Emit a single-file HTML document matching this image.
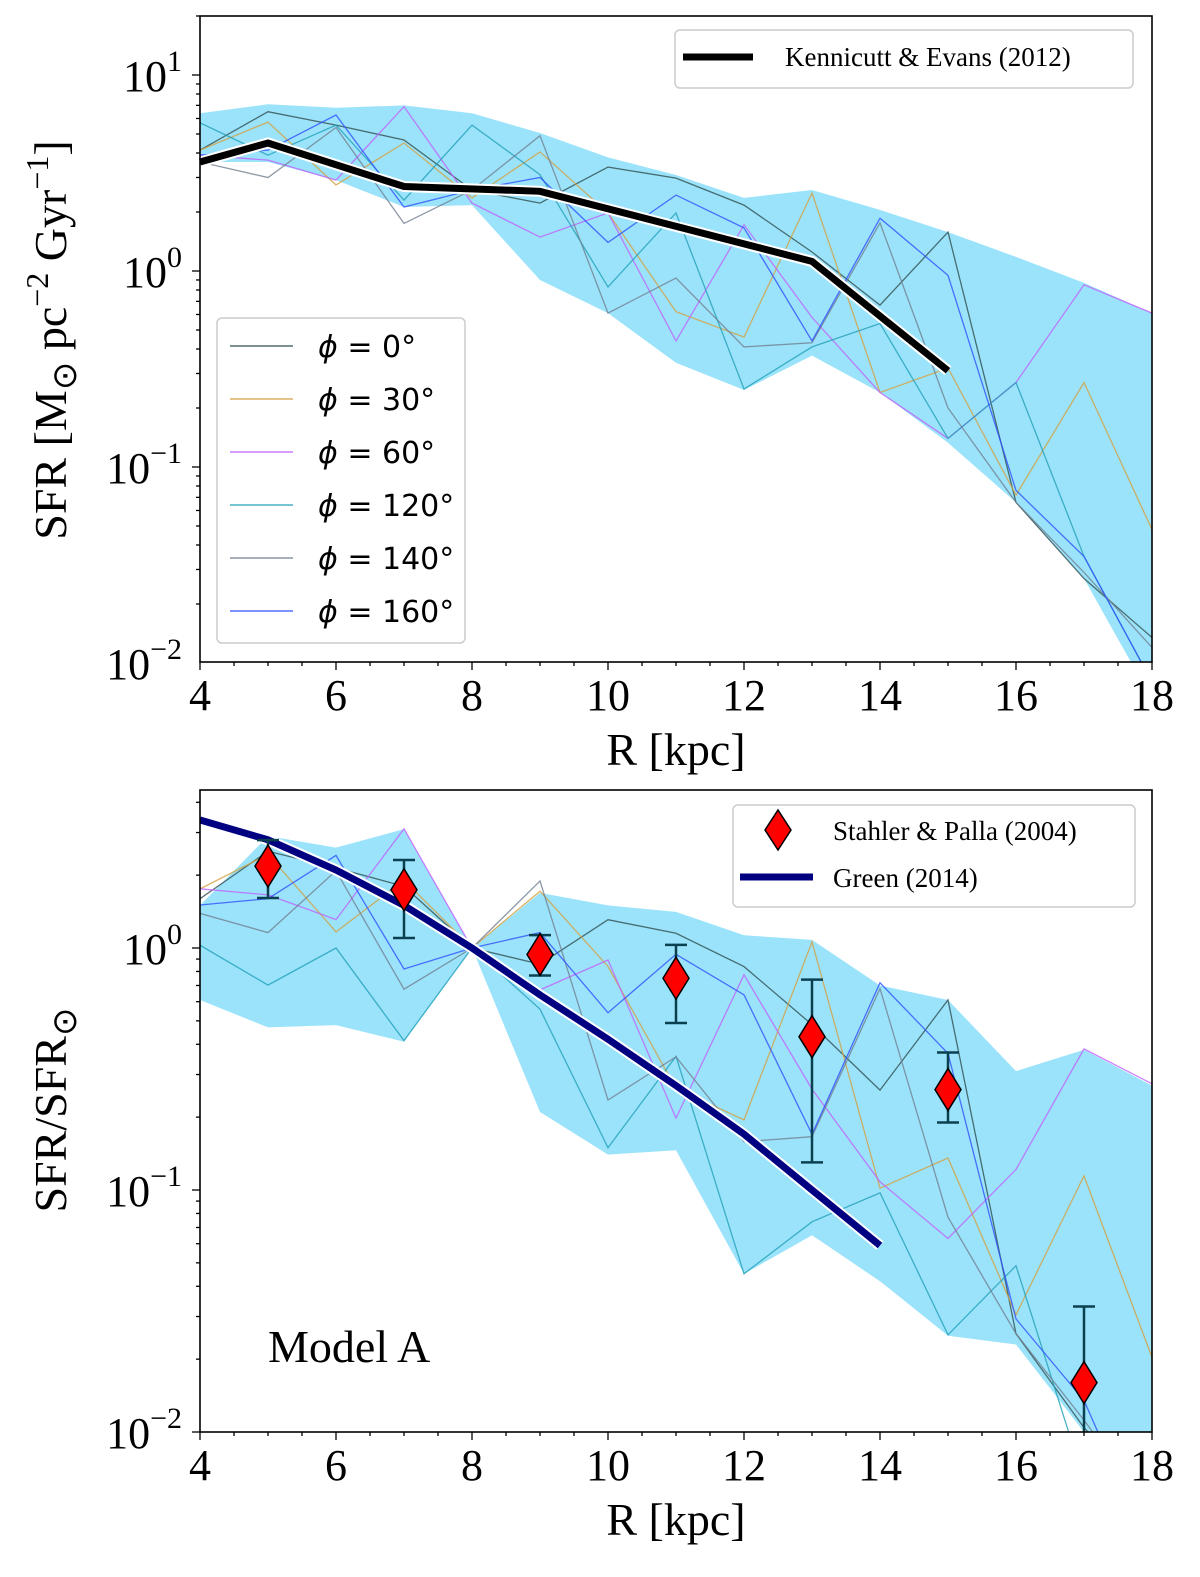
<!DOCTYPE html>
<html><head><meta charset="utf-8"><style>
html,body{margin:0;padding:0;background:#fff;}
svg{display:block;}
text{font-family:"Liberation Serif",serif;fill:#000;}
.math{font-family:"DejaVu Sans",sans-serif;}
</style></head><body>
<svg id="fig" width="1200" height="1577" viewBox="0 0 1200 1577" xmlns="http://www.w3.org/2000/svg">
<g id="top"></g>
<g id="bot"></g>
</svg>
<script>
const radii = [4,5,6,7,8,9,10,11,12,13,14,15,16,17,18];
const phiLabels = ['0','30','60','120','140','160'];
const phiColors = ['#2f4f4f','#d4a040','#c060ff','#20a0b8','#708090','#3050ff'];
const phi0   = [4.14,6.5,5.55,4.66,2.59,2.22,3.39,2.98,2.17,1.25,0.67,1.58,0.066,0.027,0.0135];
const phi30  = [4.14,5.75,2.75,4.5,2.36,4.05,1.98,0.62,0.46,2.5,0.24,0.32,0.072,0.27,0.048];
const phi60  = [3.9,3.68,2.91,6.9,2.22,1.49,1.98,0.44,1.72,0.58,0.24,0.14,0.27,0.85,0.61];
const phi120 = [5.7,3.9,5.55,2.3,5.55,3.1,0.83,1.98,0.25,0.41,0.54,0.14,0.27,0.035,0.008];
const phi140 = [3.6,3.0,5.4,1.75,2.59,4.9,0.61,0.92,0.41,0.43,1.76,0.20,0.066,0.029,0.012];
const phi160 = [3.9,4.14,6.25,2.12,2.59,3.0,1.4,2.44,1.66,0.44,1.86,0.95,0.076,0.035,0.008];
const bandTopUpper = [6.38,7.1,6.8,7.0,6.38,5.06,3.8,3.09,2.36,2.59,2.05,1.58,1.18,0.87,0.61];
const bandTopLower = [3.6,3.6,2.91,2.12,2.17,0.9,0.61,0.34,0.247,0.37,0.24,0.133,0.066,0.027,0.0065];
const keR = [4,5,7,9,13,15];
const keV = [3.6,4.5,2.7,2.55,1.12,0.31];
const bandBotUpper = [1.5,2.9,2.6,3.1,1.0,1.69,1.5,1.41,1.13,1.08,0.70,0.61,0.31,0.38,0.27];
const bandBotLower = [0.61,0.47,0.48,0.41,1.0,0.21,0.14,0.146,0.045,0.065,0.042,0.025,0.023,0.01,0.005];
const greenR = [4,5,6,7,8,9,10,11,12,13,14];
const greenV = [3.38,2.8,2.1,1.5,1.0,0.64,0.42,0.27,0.17,0.10,0.059];
const spR = [5,7,9,11,13,15,17];
const spV = [2.18,1.74,0.94,0.75,0.43,0.26,0.016];
const spHi = [2.79,2.31,1.13,1.03,0.74,0.37,0.033];
const spLo = [1.61,1.10,0.77,0.49,0.13,0.19,0.005];
const xTicks = [4,6,8,10,12,14,16,18];

const NS='http://www.w3.org/2000/svg';
function mk(parent,tag,attrs,txt){const e=document.createElementNS(NS,tag);for(const k in attrs)e.setAttribute(k,attrs[k]);if(txt!==undefined)e.textContent=txt;parent.appendChild(e);return e;}
const X0=200,X1=1152;
function xs(r){return X0+(r-4)*(X1-X0)/14;}
const topP={g:document.getElementById('top'),y0:16,y1:662,ref:271,dec:196};
const botP={g:document.getElementById('bot'),y0:790,y1:1432,ref:948,dec:242};
function ys(p,v){return p.ref-p.dec*Math.log10(v);}
function clip(p,id){const d=mk(p.g,'clipPath',{id:id});mk(d,'rect',{x:X0,y:p.y0,width:X1-X0,height:p.y1-p.y0});}
function pts(p,rs,vs){return rs.map((r,i)=>xs(r).toFixed(1)+','+ys(p,vs[i]).toFixed(1)).join(' ');}

function axes(p,exps,xlab){
  const g=p.g;
  const fr=mk(g,'rect',{x:X0,y:p.y0,width:X1-X0,height:p.y1-p.y0,fill:'none',stroke:'#000','stroke-width':1.6});
  
  
  for(let r=4;r<=18;r+=0.5){const x=xs(r);const major=(r%2===0);
    mk(g,'line',{x1:x,x2:x,y1:p.y1,y2:p.y1+(major?8:4),stroke:'#000','stroke-width':1.3});}
  xTicks.forEach(t=>{const tl=mk(g,'text',{x:xs(t),y:p.y1+48,'font-size':44,'text-anchor':'middle'},String(t));
    
    });
  const xl=mk(g,'text',{x:676,y:p.y1+103,'font-size':46,'text-anchor':'middle'},xlab);
  
  
  for(let e=-3;e<=2;e++){for(let m=1;m<10;m++){const v=m*Math.pow(10,e);const y=ys(p,v);
    if(y<p.y0-0.5||y>p.y1+0.5)continue;
    mk(g,'line',{x1:X0,x2:X0-(m===1?8:4),y1:y,y2:y,stroke:'#000','stroke-width':1.3});}}
  exps.forEach(e=>{const y=ys(p,Math.pow(10,e));
    const t=mk(g,'text',{x:182,y:y+16,'font-size':44,'text-anchor':'end'});
    
    
    mk(t,'tspan',{},'10');
    mk(t,'tspan',{dy:-20,'font-size':30},e===0?'0':(e<0?'\u2212'+(-e):String(e)));});
}

function phiLines(p,norm,cid){
  const all=[phi0,phi30,phi60,phi120,phi140,phi160];
  all.forEach((arr,i)=>{const vs=norm?arr.map(v=>v/arr[4]):arr;
    const l=mk(p.g,'polyline',{points:pts(p,radii,vs),fill:'none',stroke:phiColors[i],'stroke-width':1.3,opacity:0.8,'clip-path':'url(#'+cid+')'});
    
    });
}
function band(p,up,lo,cid){
  const d=pts(p,radii,up)+' '+pts(p,radii.slice().reverse(),lo.slice().reverse());
  const b=mk(p.g,'polygon',{points:d,fill:'#9be3fb',stroke:'none','clip-path':'url(#'+cid+')'});
  
  
}

// TOP
clip(topP,'ct');
band(topP,bandTopUpper,bandTopLower,'ct');
phiLines(topP,false,'ct');
mk(topP.g,'polyline',{points:pts(topP,keR,keV),fill:'none',stroke:'#fff','stroke-width':11,'stroke-linejoin':'miter'});
const ke=mk(topP.g,'polyline',{points:pts(topP,keR,keV),fill:'none',stroke:'#000','stroke-width':7});


axes(topP,[-2,-1,0,1],'R [kpc]');
const yt=mk(topP.g,'text',{transform:'translate(66,340) rotate(-90)','font-size':46,'text-anchor':'middle'});


yt.innerHTML='SFR [M<tspan font-size="34" dy="10">\u2299</tspan><tspan dy="-10"> pc</tspan><tspan dy="-18" font-size="32">\u22122</tspan><tspan dy="18"> Gyr</tspan><tspan dy="-18" font-size="32">\u22121</tspan><tspan dy="18">]</tspan>';
{const lg=mk(topP.g,'g',{});
 
 
 mk(lg,'rect',{x:675,y:30,width:458,height:58,rx:5,fill:'#fff',stroke:'#ccc','stroke-width':1.5});
 mk(lg,'line',{x1:683,x2:753,y1:57,y2:57,stroke:'#000','stroke-width':7});
 mk(lg,'text',{x:785,y:66,'font-size':27},'Kennicutt & Evans (2012)');}
{const lg=mk(topP.g,'g',{});
 
 
 mk(lg,'rect',{x:217,y:318,width:248,height:325,rx:5,fill:'#fff','fill-opacity':0.85,stroke:'#ccc','stroke-width':1.5});
 phiLabels.forEach((l,i)=>{const y=346+i*53;
   const e=mk(lg,'g',{});
   
   
   mk(e,'line',{x1:230,x2:293,y1:y,y2:y,stroke:phiColors[i],'stroke-width':1.3});
   const t=mk(e,'text',{x:318,y:y+11,'font-size':30,'class':'math'});
   t.innerHTML='<tspan font-style="italic">\u03d5</tspan> = '+l+'\u00b0';});}

// BOTTOM
clip(botP,'cb');
band(botP,bandBotUpper,bandBotLower,'cb');
phiLines(botP,true,'cb');
mk(botP.g,'polyline',{points:pts(botP,greenR,greenV),fill:'none',stroke:'#fff','stroke-width':11,'stroke-linecap':'butt','clip-path':'url(#cb)'});
const gr=mk(botP.g,'polyline',{points:pts(botP,greenR,greenV),fill:'none',stroke:'#000080','stroke-width':7,'clip-path':'url(#cb)'});


spR.forEach((r,i)=>{const x=xs(r);const y=ys(botP,spV[i]);
  const g=mk(botP.g,'g',{'clip-path':'url(#cb)'});
  
  
  const yh=ys(botP,spHi[i]),yl=ys(botP,spLo[i]);
  mk(g,'line',{x1:x,x2:x,y1:yh,y2:yl,stroke:'#0a4050','stroke-width':2.5});
  mk(g,'line',{x1:x-11,x2:x+11,y1:yh,y2:yh,stroke:'#0a4050','stroke-width':2.5});
  mk(g,'line',{x1:x-11,x2:x+11,y1:yl,y2:yl,stroke:'#0a4050','stroke-width':2.5});
  mk(g,'polygon',{points:`${x},${y-21} ${x+13},${y} ${x},${y+21} ${x-13},${y}`,fill:'#ff0000',stroke:'#000','stroke-width':1.5});});
axes(botP,[-2,-1,0],'R [kpc]');
const yb=mk(botP.g,'text',{transform:'translate(66,1110) rotate(-90)','font-size':46,'text-anchor':'middle'});


yb.innerHTML='SFR/SFR<tspan font-size="34" dy="10">\u2299</tspan>';
{const lg=mk(botP.g,'g',{});
 
 
 mk(lg,'rect',{x:733,y:805,width:402,height:102,rx:5,fill:'#fff',stroke:'#ccc','stroke-width':1.5});
 mk(lg,'polygon',{points:'778,810 791,830 778,850 765,830',fill:'#ff0000',stroke:'#000','stroke-width':1.5});
 mk(lg,'text',{x:833,y:840,'font-size':27},'Stahler & Palla (2004)');
 mk(lg,'line',{x1:740,x2:813,y1:877,y2:877,stroke:'#000080','stroke-width':7});
 mk(lg,'text',{x:833,y:887,'font-size':27},'Green (2014)');}
const ma=mk(botP.g,'text',{x:268,y:1362,'font-size':46},'Model A');


</script>
</body></html>
